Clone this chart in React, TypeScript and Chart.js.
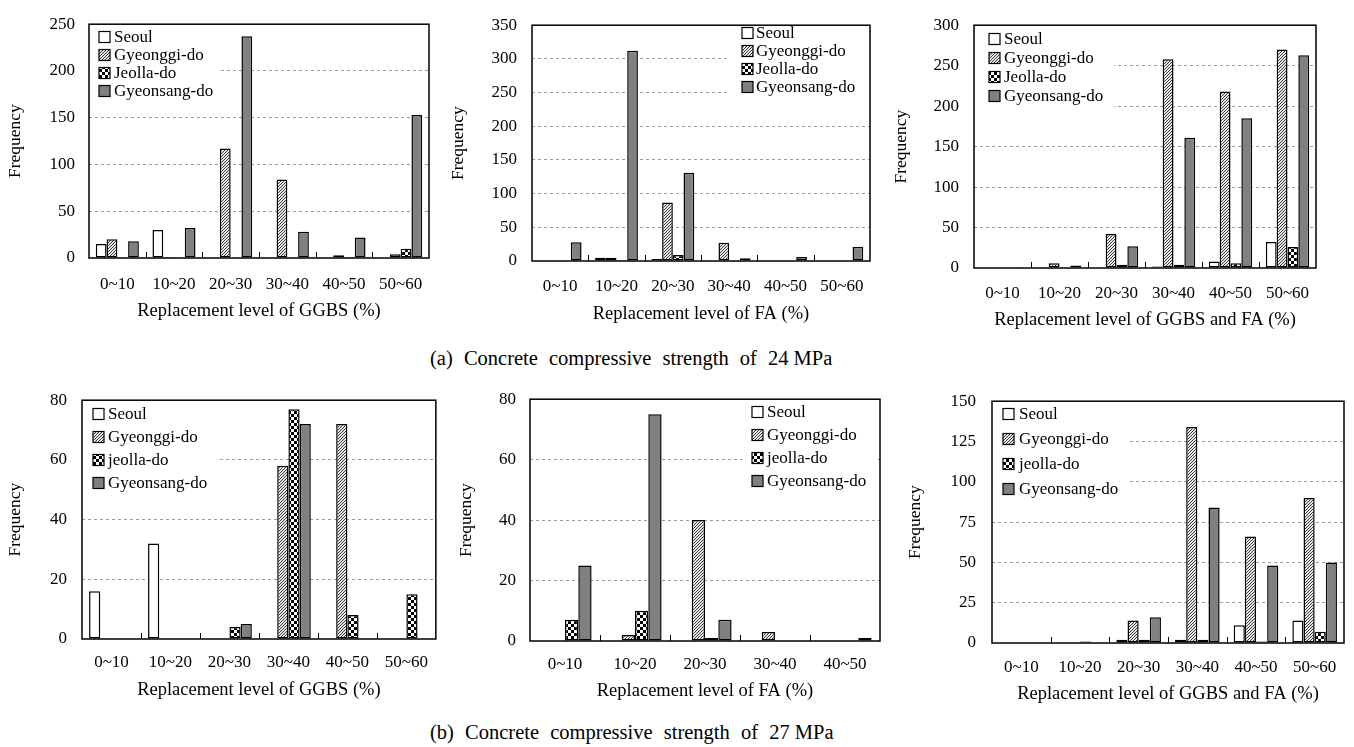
import React, { useEffect, useRef } from 'react';
import { Chart, registerables } from 'chart.js';
Chart.register(...registerables);

const FONT = "'Liberation Serif', 'Times New Roman', serif";

// categories
const cats6 = ['0~10', '10~20', '20~30', '30~40', '40~50', '50~60'];
const cats5 = ['0~10', '10~20', '20~30', '30~40', '40~50'];
const namesA = ['Seoul', 'Gyeonggi-do', 'Jeolla-do', 'Gyeonsang-do'];
const namesB = ['Seoul', 'Gyeonggi-do', 'jeolla-do', 'Gyeonsang-do'];

// (a) 24 MPa – GGBS
const a1Seoul = [15, 30, 0, 0, 0, 0];
const a1Gyeonggi = [20, 1, 117, 84, 3, 4];
const a1Jeolla = [0, 0, 0, 0, 1, 10];
const a1Gyeonsang = [18, 32, 237, 28, 22, 153];
// (a) 24 MPa – FA
const a2Seoul = [0, 5, 3, 0, 0, 0];
const a2Gyeonggi = [0, 5, 87, 27, 0, 0];
const a2Jeolla = [0, 1, 9, 0, 0, 0];
const a2Gyeonsang = [28, 312, 131, 4, 6, 21];
// (a) 24 MPa – GGBS and FA
const a3Seoul = [0, 1, 0, 2, 8, 32];
const a3Gyeonggi = [0, 6, 42, 258, 218, 270];
const a3Jeolla = [0, 0, 4, 4, 6, 26];
const a3Gyeonsang = [1, 3, 27, 161, 185, 263];
// (b) 27 MPa – GGBS
const b1Seoul = [16, 32, 0, 0, 0, 0];
const b1Gyeonggi = [0, 0, 0, 58, 72, 0];
const b1Jeolla = [0, 0, 4, 77, 8, 15];
const b1Gyeonsang = [0, 0, 5, 72, 0, 0];
// (b) 27 MPa – FA
const b2Seoul = [0, 0, 0, 0, 0];
const b2Gyeonggi = [0, 2, 40, 3, 0];
const b2Jeolla = [7, 10, 1, 0, 0];
const b2Gyeonsang = [25, 75, 7, 0, 1];
// (b) 27 MPa – GGBS and FA
const b3Seoul = [0, 0, 2, 2, 11, 14];
const b3Gyeonggi = [0, 0, 14, 134, 66, 90];
const b3Jeolla = [0, 1, 2, 2, 1, 7];
const b3Gyeonsang = [0, 0, 16, 84, 48, 50];

const captionHeadA = '(a) Concrete compressive strength of ';
const captionTailA = '24 MPa';
const captionHeadB = '(b) Concrete compressive strength of ';
const captionTailB = '27 MPa';

type PanelCfg = {
  L: number; T: number; W: number; H: number;
  ca: [number, number, number, number];
  yMax: number; yStep: number;
  cats: string[]; names: string[]; series: number[][];
  xTitle: string; yTitleX: number; xTickY: number; xTitleY: number; tickGap: number;
  legend: { bx: number; tx: number; y0: number; dy: number; bg: [number, number, number, number] };
};

const panels: PanelCfg[] = [
  {
    L: 0, T: 0, W: 442, H: 330, ca: [89, 16, 429, 258], yMax: 250, yStep: 50,
    cats: cats6, names: namesA, series: [a1Seoul, a1Gyeonggi, a1Jeolla, a1Gyeonsang],
    xTitle: 'Replacement level of GGBS (%)', yTitleX: 15, xTickY: 285, xTitleY: 311, tickGap: 14,
    legend: { bx: 99, tx: 114, y0: 37, dy: 18, bg: [90, 17, 219, 102] },
  },
  {
    L: 442, T: 0, W: 444, H: 330, ca: [532, 19, 870, 261], yMax: 350, yStep: 50,
    cats: cats6, names: namesA, series: [a2Seoul, a2Gyeonggi, a2Jeolla, a2Gyeonsang],
    xTitle: 'Replacement level of FA (%)', yTitleX: 458, xTickY: 287, xTitleY: 314, tickGap: 15,
    legend: { bx: 742, tx: 756, y0: 33, dy: 18, bg: [729, 20, 869, 96] },
  },
  {
    L: 886, T: 0, W: 468, H: 335, ca: [974, 19, 1316, 268], yMax: 300, yStep: 50,
    cats: cats6, names: namesA, series: [a3Seoul, a3Gyeonggi, a3Jeolla, a3Gyeonsang],
    xTitle: 'Replacement level of GGBS and FA (%)', yTitleX: 901, xTickY: 294, xTitleY: 320, tickGap: 15,
    legend: { bx: 989, tx: 1004, y0: 39, dy: 19, bg: [975, 20, 1114, 108] },
  },
  {
    L: 0, T: 375, W: 442, H: 330, ca: [82, 399, 439, 639], yMax: 80, yStep: 20,
    cats: cats6, names: namesB, series: [b1Seoul, b1Gyeonggi, b1Jeolla, b1Gyeonsang],
    xTitle: 'Replacement level of GGBS (%)', yTitleX: 15, xTickY: 663, xTitleY: 690, tickGap: 15,
    legend: { bx: 93, tx: 108, y0: 414, dy: 23, bg: [83, 400, 219, 495] },
  },
  {
    L: 442, T: 375, W: 444, H: 330, ca: [530, 396, 880, 641], yMax: 80, yStep: 20,
    cats: cats5, names: namesB, series: [b2Seoul, b2Gyeonggi, b2Jeolla, b2Gyeonsang],
    xTitle: 'Replacement level of FA (%)', yTitleX: 466, xTickY: 665, xTitleY: 691, tickGap: 14,
    legend: { bx: 752, tx: 767, y0: 412, dy: 23, bg: [742, 397, 877, 493] },
  },
  {
    L: 886, T: 375, W: 468, H: 330, ca: [992, 394, 1344, 643], yMax: 150, yStep: 25,
    cats: cats6, names: namesB, series: [b3Seoul, b3Gyeonggi, b3Jeolla, b3Gyeonsang],
    xTitle: 'Replacement level of GGBS and FA (%)', yTitleX: 915, xTickY: 668, xTitleY: 694, tickGap: 16,
    legend: { bx: 1003, tx: 1019, y0: 414, dy: 25, bg: [993, 395, 1128, 500] },
  },
];

function makeHatch(): CanvasPattern | string {
  const c = document.createElement('canvas');
  c.width = 3; c.height = 3;
  const g = c.getContext('2d');
  if (!g) return '#aaa';
  g.fillStyle = '#e8e8e8';
  g.fillRect(0, 0, 3, 3);
  g.fillStyle = '#3a3a3a';
  for (let i = 0; i < 3; i++) g.fillRect(i, 2 - i, 1, 1);
  return g.createPattern(c, 'repeat') || '#aaa';
}

function makeChecker(): CanvasPattern | string {
  const c = document.createElement('canvas');
  c.width = 6; c.height = 6;
  const g = c.getContext('2d');
  if (!g) return '#888';
  g.fillStyle = '#fff';
  g.fillRect(0, 0, 6, 6);
  g.fillStyle = '#000';
  g.fillRect(0, 0, 3, 3);
  g.fillRect(3, 3, 3, 3);
  return g.createPattern(c, 'repeat') || '#888';
}

const TICK_FS = 17;
const LEG_FS = 17;
const YT_FS = 17.5;
const XT_FS = 18.5;

function Panel({ cfg }: { cfg: PanelCfg }) {
  const ref = useRef<HTMLCanvasElement>(null);
  useEffect(() => {
    if (!ref.current) return;
    const fills: (CanvasPattern | string)[] = ['#ffffff', makeHatch(), makeChecker(), '#808080'];
    const [cl, ct, cr, cb] = cfg.ca;
    const yAxisW = cl - cfg.L;
    const xAxisH = cfg.T + cfg.H - cb;
    const yTitlePad = cfg.yTitleX - cfg.L - (YT_FS * 1.2) / 2;
    const xTitlePad = cfg.T + cfg.H - cfg.xTitleY - (XT_FS * 1.2) / 2;
    const xTickPad = cfg.xTickY - cb - (TICK_FS * 1.2) / 2;

    const legendPlugin = {
      id: 'boxLegend',
      beforeDatasetsDraw(chart: any) {
        const ctx = chart.ctx as CanvasRenderingContext2D;
        const lg = cfg.legend;
        ctx.save();
        ctx.fillStyle = '#fff';
        ctx.fillRect(lg.bg[0] - cfg.L, lg.bg[1] - cfg.T, lg.bg[2] - lg.bg[0], lg.bg[3] - lg.bg[1]);
        ctx.font = `${LEG_FS}px ${FONT}`;
        ctx.textBaseline = 'middle';
        ctx.textAlign = 'left';
        cfg.names.forEach((n, i) => {
          const y = lg.y0 + i * lg.dy - cfg.T;
          const x = lg.bx - cfg.L;
          ctx.fillStyle = fills[i] as any;
          ctx.fillRect(x, y - 5.5, 11, 11);
          ctx.strokeStyle = '#000';
          ctx.lineWidth = 1.2;
          ctx.strokeRect(x, y - 5.5, 11, 11);
          ctx.fillStyle = '#000';
          ctx.fillText(n, lg.tx - cfg.L, y + 1);
        });
        ctx.restore();
      },
      afterDatasetsDraw(chart: any) {
        const ctx = chart.ctx as CanvasRenderingContext2D;
        const a = chart.chartArea;
        const xs = chart.scales.x;
        ctx.save();
        ctx.strokeStyle = '#000';
        ctx.lineWidth = 1;
        for (let i = 1; i < cfg.cats.length; i++) {
          const px = Math.round((xs.getPixelForValue(i - 1) + xs.getPixelForValue(i)) / 2) + 0.5;
          ctx.beginPath();
          ctx.moveTo(px, a.bottom);
          ctx.lineTo(px, a.bottom - 6);
          ctx.stroke();
        }
        ctx.lineWidth = 1.5;
        ctx.strokeRect(a.left, a.top, a.right - a.left, a.bottom - a.top);
        ctx.restore();
      },
    };

    const chart = new Chart(ref.current, {
      type: 'bar',
      data: {
        labels: cfg.cats,
        datasets: cfg.series.map((vals, i) => ({
          label: cfg.names[i],
          data: vals,
          backgroundColor: fills[i] as any,
          borderColor: '#000',
          borderWidth: 1.5,
          borderSkipped: false,
          barPercentage: 1,
          categoryPercentage: 0.76,
        })),
      },
      options: {
        animation: false,
        responsive: false,
        devicePixelRatio: 1,
        layout: { padding: { left: 0, top: ct - cfg.T, right: cfg.L + cfg.W - cr, bottom: 0 } },
        plugins: { legend: { display: false }, tooltip: { enabled: false } },
        scales: {
          x: {
            grid: { display: false, drawTicks: false },
            border: { display: false },
            ticks: { color: '#000', font: { family: FONT, size: TICK_FS }, padding: xTickPad, maxRotation: 0, autoSkip: false },
            title: { display: true, text: cfg.xTitle, color: '#000', font: { family: FONT, size: XT_FS }, padding: { top: 0, bottom: xTitlePad } },
            afterFit: (s: any) => { s.height = xAxisH; },
          },
          y: {
            min: 0,
            max: cfg.yMax,
            grid: {
              drawTicks: false,
              color: (c: any) => (c.tick && (c.tick.value === 0 || c.tick.value === cfg.yMax) ? 'rgba(0,0,0,0)' : '#9a9a9a'),
              lineWidth: 1,
            },
            border: { display: false, dash: [3, 3] },
            ticks: { stepSize: cfg.yStep, color: '#000', font: { family: FONT, size: TICK_FS }, padding: cfg.tickGap },
            title: { display: true, text: 'Frequency', color: '#000', font: { family: FONT, size: YT_FS }, padding: { top: yTitlePad, bottom: 0 } },
            afterFit: (s: any) => { s.width = yAxisW; },
          },
        },
      },
      plugins: [legendPlugin],
    } as any);
    return () => chart.destroy();
  }, []);
  return (
    <canvas
      ref={ref}
      width={cfg.W}
      height={cfg.H}
      style={{ position: 'absolute', left: cfg.L, top: cfg.T, width: cfg.W, height: cfg.H }}
    />
  );
}

const captionStyle: React.CSSProperties = {
  position: 'absolute',
  left: 430,
  fontFamily: FONT,
  fontSize: 20.5,
  lineHeight: '24px',
  color: '#000',
  whiteSpace: 'pre',
  wordSpacing: 6,
};

export default function App() {
  return (
    <div style={{ position: 'fixed', left: 0, top: 0, width: 1354, height: 747, background: '#fff', overflow: 'hidden' }}>
      {panels.map((p, i) => (
        <Panel key={i} cfg={p} />
      ))}
      <div style={{ ...captionStyle, top: 346 }}>
        {captionHeadA}
        <span style={{ wordSpacing: 0 }}>{captionTailA}</span>
      </div>
      <div style={{ ...captionStyle, top: 720 }}>
        {captionHeadB}
        <span style={{ wordSpacing: 0 }}>{captionTailB}</span>
      </div>
    </div>
  );
}
